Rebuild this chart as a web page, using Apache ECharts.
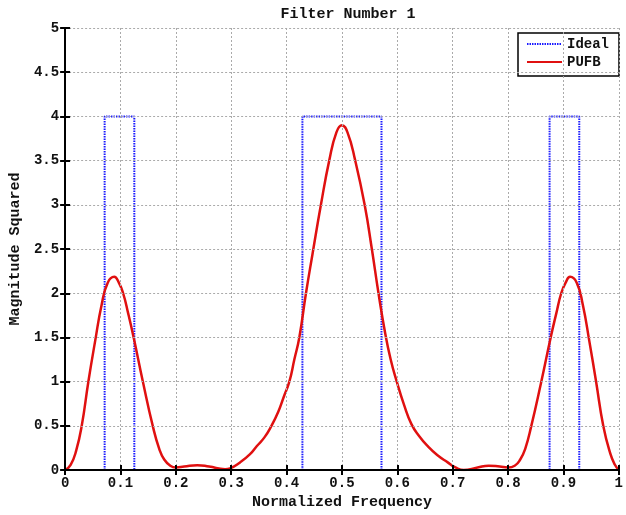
<!DOCTYPE html>
<html><head><meta charset="utf-8">
<script src="https://cdn.jsdelivr.net/npm/echarts@6/dist/echarts.min.js"></script>
<style>html,body{margin:0;padding:0;background:#fff}#c{width:626px;height:515px}</style>
</head><body><div id="c"></div>
<script>
var idealX = [0.0714,0.0714,0.125,0.125,0.4286,0.4286,0.5714,0.5714,0.875,0.875,0.9286,0.9286];
var idealY = [0,4,4,0,0,4,4,0,0,4,4,0];
var pufbX = [0,0.01,0.02,0.03,0.042,0.054,0.066,0.077,0.0887,0.097,0.1048,0.114,0.1238,0.1405,0.1583,0.17,0.179,0.19,0.2,0.215,0.2387,0.26,0.289,0.298,0.316,0.334,0.346,0.36,0.3726,0.385,0.395,0.405,0.414,0.423,0.435,0.447,0.462,0.477,0.49,0.5,0.51,0.524,0.541,0.554,0.566,0.578,0.588,0.599,0.612,0.6255,0.64,0.655,0.672,0.691,0.705,0.72,0.745,0.765,0.785,0.8,0.812,0.822,0.831,0.842,0.86,0.877,0.887,0.896,0.904,0.912,0.924,0.935,0.947,0.959,0.972,0.985,0.993,1];
var pufbY = [0,0.06,0.22,0.5,1.0,1.45,1.87,2.12,2.186,2.12,2.0,1.77,1.5,1.0,0.5,0.24,0.12,0.05,0.03,0.04,0.056,0.04,0.01,0.02,0.087,0.18,0.27,0.37,0.5,0.66,0.83,1.0,1.25,1.5,2.0,2.45,3.0,3.5,3.82,3.9,3.82,3.5,3.0,2.5,2.0,1.55,1.25,1.0,0.74,0.52,0.38,0.27,0.17,0.087,0.03,0.0,0.03,0.05,0.04,0.03,0.05,0.12,0.24,0.5,1.0,1.5,1.77,2.0,2.12,2.186,2.12,1.87,1.45,1.0,0.5,0.18,0.06,0];
var xTicks = [0,0.1,0.2,0.3,0.4,0.5,0.6,0.7,0.8,0.9,1];
var yTicks = [0,0.5,1,1.5,2,2.5,3,3.5,4,4.5,5];

var FONT = "'Liberation Mono','DejaVu Sans Mono',monospace";
function zip(a,b){return a.map(function(v,i){return [v,b[i]];});}
function pick(list){return function(v){var t=list.filter(function(k){return Math.abs(k-v)<1e-9;});return t.length?String(t[0]):'';};}
var gridLine = {show:true, lineStyle:{color:'#aaa', type:[2,2], width:1}};
var chart = echarts.init(document.getElementById('c'));
chart.setOption({
  animation:false,
  backgroundColor:'#fff',
  title:{text:'Filter Number 1', left:343, top:2, textAlign:'center',
    textStyle:{fontFamily:FONT, fontSize:15, fontWeight:'bold', color:'#111'}},
  grid:{left:63, right:3, top:28, bottom:44},
  legend:{left:518, top:33, orient:'vertical', itemWidth:35, itemHeight:14, itemGap:4,
    padding:[4,10,7,8], borderColor:'#000', borderWidth:1.5, backgroundColor:'#fff',
    itemStyle:{opacity:0},
    textStyle:{fontFamily:FONT, fontSize:14, fontWeight:'bold', color:'#111'},
    data:['Ideal','PUFB']},
  xAxis:[{type:'value', min:0, max:1, interval:0.1, position:'bottom', z:5,
    name:'Normalized Frequency', nameLocation:'middle', nameGap:24,
    nameTextStyle:{fontFamily:FONT, fontSize:15, fontWeight:'bold', color:'#111'},
    axisLine:{lineStyle:{color:'#000', width:2}},
    axisTick:{inside:true, length:5, lineStyle:{color:'#000', width:2}},
    axisLabel:{fontFamily:FONT, fontSize:14, fontWeight:'bold', color:'#111', margin:6, formatter:pick(xTicks)},
    splitLine:gridLine},
   {type:'value', min:0, max:1, interval:0.1, position:'top', z:5,
    axisLine:{lineStyle:{color:'#000', width:2}},
    axisTick:{inside:true, length:5, lineStyle:{color:'#000', width:2}},
    axisLabel:{show:false}, splitLine:{show:false}}],
  yAxis:[{type:'value', min:0, max:5, interval:0.5, position:'left', z:5,
    name:'Magnitude Squared', nameLocation:'middle', nameGap:37,
    nameTextStyle:{fontFamily:FONT, fontSize:15, fontWeight:'bold', color:'#111'},
    axisLine:{show:true, lineStyle:{color:'#000', width:2}},
    axisTick:{show:true, inside:true, length:5, lineStyle:{color:'#000', width:2}},
    axisLabel:{fontFamily:FONT, fontSize:14, fontWeight:'bold', color:'#111', margin:6, formatter:pick(yTicks)},
    splitLine:gridLine},
   {type:'value', min:0, max:5, interval:0.5, position:'right', z:5,
    axisLine:{show:true, lineStyle:{color:'#000', width:2}},
    axisTick:{show:true, inside:true, length:5, lineStyle:{color:'#000', width:2}},
    axisLabel:{show:false}, splitLine:{show:false}}],
  series:[
    {name:'Ideal', type:'line', xAxisIndex:0, yAxisIndex:0, showSymbol:false, symbol:'none',
      data:zip(idealX, idealY), color:'#1a1aff',
      lineStyle:{color:'#1a1aff', width:2, type:[1.5,1]}},
    {name:'PUFB', type:'line', xAxisIndex:0, yAxisIndex:0, showSymbol:false, symbol:'none',
      smooth:0.5, data:zip(pufbX, pufbY), color:'#e01010',
      lineStyle:{color:'#e01010', width:2.5}}
  ]
});
</script></body></html>
